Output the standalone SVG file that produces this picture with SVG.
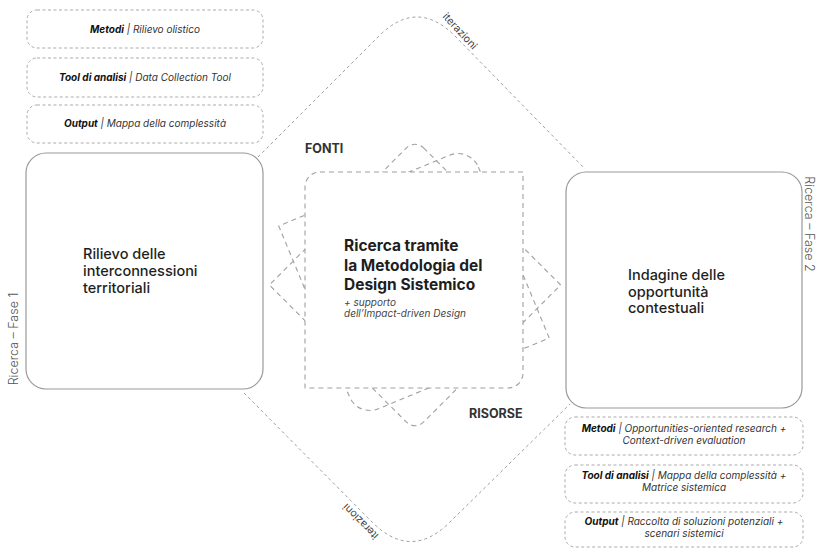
<svg xmlns="http://www.w3.org/2000/svg" width="819" height="548" viewBox="0 0 819 548">
<style>
text{font-family:Inter,"Noto Sans","Liberation Sans",sans-serif;fill:#1e1e1e}
.big{fill:#fff;stroke:#9a9a9a;stroke-width:1.2}
.small{fill:none;stroke:#ababab;stroke-width:1;stroke-dasharray:3 2.5}
.iter{fill:none;stroke:#9e9e9e;stroke-width:1;stroke-dasharray:3 3}
.rot{fill:none;stroke:#a0a0a0;stroke-width:1.1;stroke-dasharray:5 4}
.ctr{fill:#fff;stroke:#a0a0a0;stroke-width:1.1;stroke-dasharray:5 4}
.lbl{font-size:14.5px;font-weight:500}
.ctrt{font-size:15.5px;font-weight:700}
.sub{font-size:10px;font-style:italic;fill:#444}
.st{font-size:10px;font-style:italic;fill:#333}
.st .b{font-weight:700;fill:#111}
.side{font-size:12.5px;fill:#555;font-weight:300}
.iterlbl{font-size:10.5px;fill:#444}
.src{font-size:12.5px;font-weight:700;fill:#333}
</style>
<defs>
<path id="shA" d="M -91,-103 L 103,-103 L 103,91 A 12 12 0 0 1 91,103 L -103,103 L -103,-91 A 12 12 0 0 1 -91,-103 Z"/>
<path id="shB" d="M -81.5,-103.5 L 103.5,-103.5 L 103.5,81.5 A 22 22 0 0 1 81.5,103.5 L -103.5,103.5 L -103.5,-81.5 A 22 22 0 0 1 -81.5,-103.5 Z"/>
</defs>
<g id="connectors">
<path class="iter" d="M 258,157 L 379,36 Q 417,-2 455,36 L 585,169"/>
<path class="iter" d="M 244,393 L 372,522 Q 411,561 450,522 L 570,404"/>
<text class="iterlbl" transform="translate(442,17) rotate(47)">iterazioni</text>
<text class="iterlbl" transform="translate(379,535) rotate(225)">iterazioni</text>
</g>
<g id="central">
<use href="#shA" class="rot" transform="translate(415,285) rotate(45)"/>
<use href="#shB" class="rot" transform="translate(414,282) rotate(67.5)"/>
<path class="ctr" d="M 320,172 L 523,172 L 523,373 A 15 15 0 0 1 508,388 L 305,388 L 305,187 A 15 15 0 0 1 320,172 Z"/>
<text class="ctrt" x="344" y="251">Ricerca tramite</text>
<text class="ctrt" x="344" y="271">la Metodologia del</text>
<text class="ctrt" x="344" y="290">Design Sistemico</text>
<text class="sub" x="344" y="305.5">+ supporto</text>
<text class="sub" x="344" y="317">dell’Impact-driven Design</text>
</g>
<g id="fonti"><text class="src" x="305" y="153">FONTI</text></g>
<g id="risorse"><text class="src" x="469" y="418">RISORSE</text></g>
<g id="fase1">
<rect class="big" x="26" y="153" width="237" height="236" rx="20"/>
<text class="lbl" x="83" y="259">Rilievo delle</text>
<text class="lbl" x="83" y="276">interconnessioni</text>
<text class="lbl" x="83" y="293">territoriali</text>
<text class="side" transform="translate(18,339) rotate(-90)" text-anchor="middle">Ricerca – Fase 1</text>
</g>
<g id="fase2">
<rect class="big" x="566" y="172" width="236" height="236" rx="20"/>
<text class="lbl" x="628" y="280">Indagine delle</text>
<text class="lbl" x="628" y="297">opportunità</text>
<text class="lbl" x="628" y="313">contestuali</text>
<text class="side" transform="translate(805,224) rotate(90)" text-anchor="middle">Ricerca – Fase 2</text>
</g>
<g id="left-metodi">
<rect class="small" x="27" y="10" width="236" height="38" rx="10"/>
<text class="st" x="145" y="32.5" text-anchor="middle"><tspan class="b">Metodi</tspan> | Rilievo olistico</text>
</g>
<g id="left-tool">
<rect class="small" x="27" y="58" width="236" height="39" rx="10"/>
<text class="st" x="145" y="80.5" text-anchor="middle"><tspan class="b">Tool di analisi</tspan> | Data Collection Tool</text>
</g>
<g id="left-output">
<rect class="small" x="27" y="105" width="236" height="38" rx="10"/>
<text class="st" x="145" y="127" text-anchor="middle"><tspan class="b">Output</tspan> | Mappa della complessità</text>
</g>
<g id="right-metodi">
<rect class="small" x="565" y="417" width="238" height="38" rx="10"/>
<text class="st" x="684" y="432" text-anchor="middle"><tspan class="b">Metodi</tspan> | Opportunities-oriented research +</text>
<text class="st" x="684" y="444" text-anchor="middle">Context-driven evaluation</text>
</g>
<g id="right-tool">
<rect class="small" x="565" y="465" width="238" height="38" rx="10"/>
<text class="st" x="684" y="479" text-anchor="middle"><tspan class="b">Tool di analisi</tspan> | Mappa della complessità +</text>
<text class="st" x="684" y="491" text-anchor="middle">Matrice sistemica</text>
</g>
<g id="right-output">
<rect class="small" x="565" y="512" width="238" height="35" rx="10"/>
<text class="st" x="684" y="525" text-anchor="middle"><tspan class="b">Output</tspan> | Raccolta di soluzioni potenziali +</text>
<text class="st" x="684" y="537" text-anchor="middle">scenari sistemici</text>
</g>
</svg>
